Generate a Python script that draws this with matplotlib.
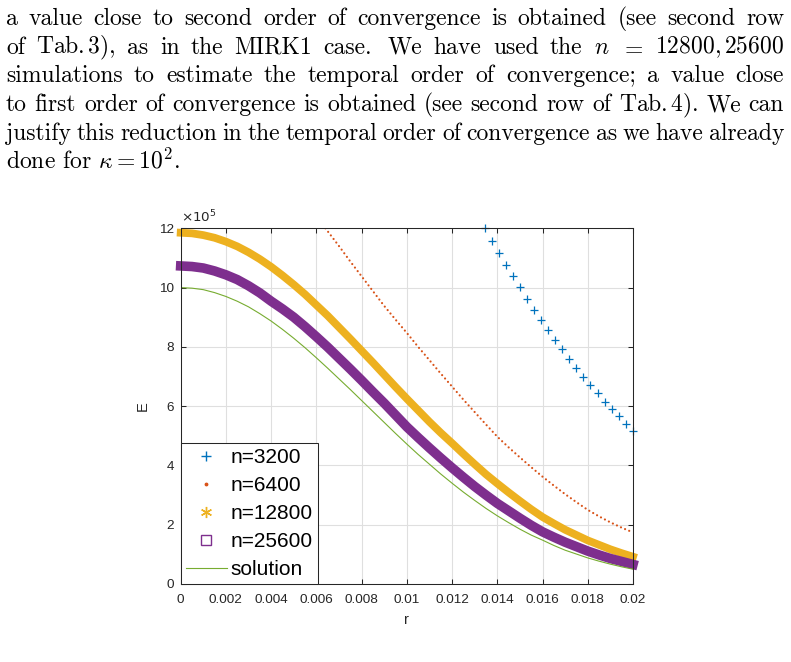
import numpy as np
import matplotlib
matplotlib.use('Agg')
import matplotlib.pyplot as plt
from matplotlib.lines import Line2D

# paragraph above the plot, one list of words per printed line
para_lines = [
    "a value close to second order of convergence is obtained (see second row".split(),
    ["of", r"Tab.$\,$3),", "as", "in", "the", "MIRK1", "case.", "We", "have",
     "used", "the", "$n$", "$=$", r"12800,$\,$25600"],
    "simulations to estimate the temporal order of convergence; a value close".split(),
    ["to", "first", "order", "of", "convergence", "is", "obtained", "(see", "second",
     "row", "of", r"Tab.$\,$4).", "We", "can"],
    "justify this reduction in the temporal order of convergence as we have already".split(),
]
last_line = r"done for $\kappa = 10^2$."

# (E in units of 1e5)
r_read = [0, 0.0005, 0.001, 0.0015, 0.002, 0.0025, 0.003, 0.0035, 0.004, 0.0045,
          0.005, 0.0055, 0.006, 0.0065, 0.007, 0.0075, 0.008, 0.0085, 0.009, 0.0095,
          0.010, 0.0105, 0.011, 0.0115, 0.012, 0.0125, 0.013, 0.0135, 0.014, 0.0145,
          0.015, 0.0155, 0.016, 0.0165, 0.017, 0.0175, 0.018, 0.0185, 0.019, 0.0195, 0.020]
E_solution = [10.0, 9.98, 9.93, 9.83, 9.70, 9.54, 9.35, 9.12, 8.87, 8.59,
              8.29, 7.97, 7.63, 7.28, 6.92, 6.56, 6.19, 5.82, 5.45, 5.08,
              4.72, 4.37, 4.04, 3.71, 3.40, 3.10, 2.82, 2.55, 2.30, 2.07,
              1.85, 1.65, 1.48, 1.30, 1.14, 1.01, 0.88, 0.77, 0.67, 0.58, 0.50]
E_25600 = [10.73, 10.71, 10.66, 10.56, 10.43, 10.27, 10.06, 9.82, 9.54, 9.28,
           9.00, 8.68, 8.34, 7.99, 7.62, 7.25, 6.87, 6.48, 6.10, 5.70,
           5.30, 4.94, 4.59, 4.25, 3.92, 3.60, 3.29, 3.00, 2.72, 2.47,
           2.22, 1.98, 1.76, 1.58, 1.41, 1.26, 1.11, 0.98, 0.86, 0.76, 0.66]
E_12800 = [11.85, 11.83, 11.77, 11.68, 11.55, 11.39, 11.19, 10.96, 10.70, 10.41,
           10.10, 9.77, 9.41, 9.05, 8.66, 8.27, 7.87, 7.47, 7.06, 6.65,
           6.25, 5.86, 5.47, 5.10, 4.75, 4.39, 4.04, 3.70, 3.39, 3.09,
           2.80, 2.52, 2.26, 2.04, 1.83, 1.65, 1.47, 1.32, 1.17, 1.04, 0.92]

r_6400 = [0.0064, 0.0070, 0.0075, 0.0080, 0.0085, 0.0090, 0.0095, 0.0100, 0.0105,
          0.0110, 0.0115, 0.0120, 0.0125, 0.0130, 0.0135, 0.0140, 0.0145, 0.0150,
          0.0155, 0.0160, 0.0165, 0.0170, 0.0175, 0.0180, 0.0185, 0.0190, 0.0195, 0.0200]
E_6400 = [12.00, 11.40, 10.88, 10.38, 9.88, 9.38, 8.92, 8.47, 8.00, 7.55, 7.10,
          6.66, 6.22, 5.80, 5.38, 4.97, 4.61, 4.27, 3.94, 3.62, 3.32, 3.03, 2.76,
          2.50, 2.28, 2.08, 1.90, 1.74]

r_3200 = [0.01344, 0.01375, 0.01406, 0.01437, 0.01469, 0.01500, 0.01531, 0.01562,
          0.01594, 0.01625, 0.01656, 0.01687, 0.01719, 0.01750, 0.01781, 0.01812,
          0.01844, 0.01875, 0.01906, 0.01937, 0.01969, 0.02000]
E_3200 = [12.01, 11.56, 11.16, 10.77, 10.39, 10.01, 9.62, 9.25, 8.90, 8.58, 8.24,
          7.92, 7.60, 7.30, 7.00, 6.71, 6.43, 6.15, 5.89, 5.66, 5.41, 5.16]

xticks = [0, 0.002, 0.004, 0.006, 0.008, 0.01, 0.012, 0.014, 0.016, 0.018, 0.02]
xticklabels = ['0', '0.002', '0.004', '0.006', '0.008', '0.01', '0.012', '0.014',
               '0.016', '0.018', '0.02']
yticks = [0, 2, 4, 6, 8, 10, 12]
legend_labels = ['n=3200', 'n=6400', 'n=12800', 'n=25600', 'solution']

c_blue, c_orange, c_yellow, c_purple, c_green = '#0072BD', '#D95319', '#EDB120', '#7E2F8E', '#77AC30'
W, H = 791, 662

fig = plt.figure(figsize=(W / 100, H / 100), dpi=100)
renderer = fig.canvas.get_renderer()

# justified paragraph
left_px, right_px = 6, 784
base0, skip = 25, 28.7
tkw = dict(family='cmr10', math_fontfamily='cm', fontsize=17, va='baseline', ha='left')
for i, words in enumerate(para_lines):
    y = 1 - (base0 + i * skip) / H
    texts = [fig.text(0, y, w, **tkw) for w in words]
    widths = [t.get_window_extent(renderer).width for t in texts]
    weights = [1.4 if w.endswith('.') and not w.startswith('Tab') else 1.0 for w in words[:-1]]
    gap = (right_px - left_px - sum(widths)) / sum(weights)
    x = left_px
    for j, t in enumerate(texts):
        t.set_x(x / W)
        if j < len(weights):
            x += widths[j] + gap * weights[j]
fig.text(left_px / W, 1 - (base0 + 5 * skip) / H, last_line, **tkw)

# the plot
ax = fig.add_axes([180.7 / W, 1 - 584 / H, (633 - 180.7) / W, (584 - 228.3) / H])
ax.plot(r_3200, E_3200, ls='none', marker='+', ms=5.2, mew=0.9, color=c_blue, clip_on=False)
ax.plot(r_6400, E_6400, color=c_orange, lw=1.6, ls=(0, (0.01, 2.0)), dash_capstyle='round')
ax.plot(r_read, E_12800, color=c_yellow, lw=5.6, solid_capstyle='projecting',
        solid_joinstyle='round', clip_on=False)
ax.plot(r_read, E_25600, color=c_purple, lw=6.9, solid_capstyle='projecting',
        solid_joinstyle='round', clip_on=False)
ax.plot(r_read, E_solution, color=c_green, lw=0.8)

ax.set_xlim(0, 0.02)
ax.set_ylim(0, 12)
ax.set_xticks(xticks)
ax.set_xticklabels(xticklabels)
ax.set_yticks(yticks)
ax.grid(True, color='#dfdfdf', lw=0.8)
ax.set_axisbelow(True)
for s in ax.spines.values():
    s.set_color('#262626')
    s.set_linewidth(0.75)
ax.tick_params(direction='in', length=3.6, width=0.75, top=True, right=True,
               color='#262626', labelcolor='#262626', labelsize=9.7)
ax.tick_params(axis='x', pad=7.5)
ax.tick_params(axis='y', pad=4.6)
for lab in ax.get_xticklabels() + ax.get_yticklabels():
    lab.set_family('Liberation Sans')

ax.text(0, 1.008, r'$\times10^{5}$', transform=ax.transAxes, fontsize=9.7,
        family='Liberation Sans', math_fontfamily='dejavusans', color='#262626',
        ha='left', va='bottom')
ax.text(-0.083, 0.5, 'E', transform=ax.transAxes, rotation=90, fontsize=10.5,
        family='Liberation Sans', color='#262626', ha='center', va='center')
ax.text(0.5, -0.101, 'r', transform=ax.transAxes, fontsize=10.5,
        family='Liberation Sans', color='#262626', ha='center', va='center')

handles = [
    Line2D([], [], ls='none', marker='+', ms=7, mew=1.0, color=c_blue),
    Line2D([], [], ls='none', marker='.', ms=3.5, color=c_orange),
    Line2D([], [], ls='none', marker=(6, 2, 0), ms=8, mew=1.0, color=c_yellow),
    Line2D([], [], ls='none', marker='s', ms=6.5, mew=1.0, mfc='none', mec=c_purple),
    Line2D([], [], color=c_green, lw=0.8),
]
leg = ax.legend(handles, legend_labels, loc='lower left', borderaxespad=0,
                fancybox=False, framealpha=1, edgecolor='#262626',
                prop={'family': 'Liberation Sans', 'size': 15},
                handlelength=1.95, handletextpad=0.2, borderpad=0.25, labelspacing=0.43)
leg.get_frame().set_linewidth(0.75)

fig.savefig('out.png', dpi=100)
